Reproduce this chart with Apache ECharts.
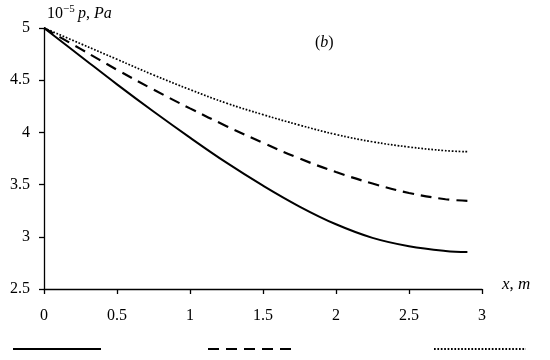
<!DOCTYPE html>
<html>
<head>
<meta charset="utf-8">
<script src="https://cdn.jsdelivr.net/npm/echarts@6/dist/echarts.min.js"></script>
<style>html,body{margin:0;padding:0;background:#fff;}#c{width:550px;height:360px;}</style>
</head>
<body>
<div id="c"></div>
<script>
const xs = [0, 0.25, 0.5, 0.75, 1, 1.25, 1.5, 1.75, 2, 2.25, 2.5, 2.75, 2.9];
const solidVals  = [5, 4.73, 4.46, 4.2, 3.95, 3.71, 3.49, 3.29, 3.12, 2.99, 2.91, 2.865, 2.855];
const dashedVals = [5, 4.8, 4.6, 4.41, 4.23, 4.06, 3.9, 3.75, 3.62, 3.51, 3.42, 3.36, 3.345];
const dottedVals = [5, 4.85, 4.7, 4.55, 4.41, 4.28, 4.17, 4.07, 3.98, 3.91, 3.86, 3.825, 3.815];
const xTicks = [0, 0.5, 1, 1.5, 2, 2.5, 3];
const yTicks = [2.5, 3, 3.5, 4, 4.5, 5];
const seriesNames = ['solid', 'dashed', 'dotted'];

const FONT = '"Liberation Serif", "DejaVu Serif", serif';
const pairs = v => xs.map((x, i) => [x, v[i]]);

const chart = echarts.init(document.getElementById('c'), null, {renderer: 'canvas'});
const lineStyles = [
  {color: '#000', width: 2, type: 'solid'},
  {color: '#000', width: 2.2, type: [11, 7]},
  {color: '#000', width: 1.7, type: [1.7, 1.7]}
];
const legendLefts = [12, 207, 433];
const legendWidths = [88, 86, 92];

chart.setOption({
  animation: false,
  backgroundColor: '#fff',
  title: {
    text: '({i|b})',
    left: 310, top: 30,
    textStyle: {
      fontFamily: FONT, fontSize: 16, fontWeight: 'normal', color: '#000',
      rich: {i: {fontFamily: FONT, fontSize: 16, fontStyle: 'italic', color: '#000'}}
    }
  },
  legend: seriesNames.map((n, i) => ({
    data: [n],
    left: legendLefts[i], top: 342,
    itemWidth: legendWidths[i], itemHeight: 14,
    formatter: () => '',
    selectedMode: false,
    itemStyle: {opacity: 0, borderWidth: 0},
    padding: 0, itemGap: 0
  })),
  grid: {left: 44, right: 68, top: 28, bottom: 71, containLabel: false},
  xAxis: {
    type: 'value', min: 0, max: 3, interval: 0.5,
    name: '{i|x}{n|, }{i|m}',
    nameLocation: 'end', nameGap: 20,
    nameTextStyle: {
      verticalAlign: 'bottom', padding: [0, 0, -4, 0],
      rich: {
        n: {fontFamily: FONT, fontSize: 17, color: '#000'},
        i: {fontFamily: FONT, fontSize: 17, fontStyle: 'italic', color: '#000'}
      }
    },
    axisLine: {show: true, lineStyle: {color: '#000', width: 1.3}},
    axisTick: {show: true, length: 5, lineStyle: {color: '#000', width: 1.3}},
    splitLine: {show: false},
    axisLabel: {
      margin: 19, fontFamily: FONT, fontSize: 16, color: '#000',
      formatter: v => xTicks.includes(v) ? String(v) : ''
    }
  },
  yAxis: {
    type: 'value', min: 2.5, max: 5, interval: 0.5,
    name: '{n|10}{s|−5} {i|p}{n|, }{i|Pa}',
    nameLocation: 'end', nameGap: 5,
    nameTextStyle: {
      align: 'left', padding: [0, 0, 0, 3],
      rich: {
        n: {fontFamily: FONT, fontSize: 16, color: '#000'},
        s: {fontFamily: FONT, fontSize: 11, color: '#000', verticalAlign: 'top', padding: [0, 0, 8, 0]},
        i: {fontFamily: FONT, fontSize: 16, fontStyle: 'italic', color: '#000'}
      }
    },
    axisLine: {show: true, lineStyle: {color: '#000', width: 1.3}},
    axisTick: {show: true, length: 5, lineStyle: {color: '#000', width: 1.3}},
    splitLine: {show: false},
    axisLabel: {
      margin: 14, fontFamily: FONT, fontSize: 16, color: '#000',
      formatter: v => yTicks.includes(v) ? String(v) : ''
    }
  },
  series: [solidVals, dashedVals, dottedVals].map((v, i) => ({
    name: seriesNames[i],
    type: 'line',
    data: pairs(v),
    smooth: 0.4,
    symbol: 'none',
    showSymbol: false,
    itemStyle: {color: '#000'},
    lineStyle: lineStyles[i]
  }))
});
</script>
</body>
</html>
